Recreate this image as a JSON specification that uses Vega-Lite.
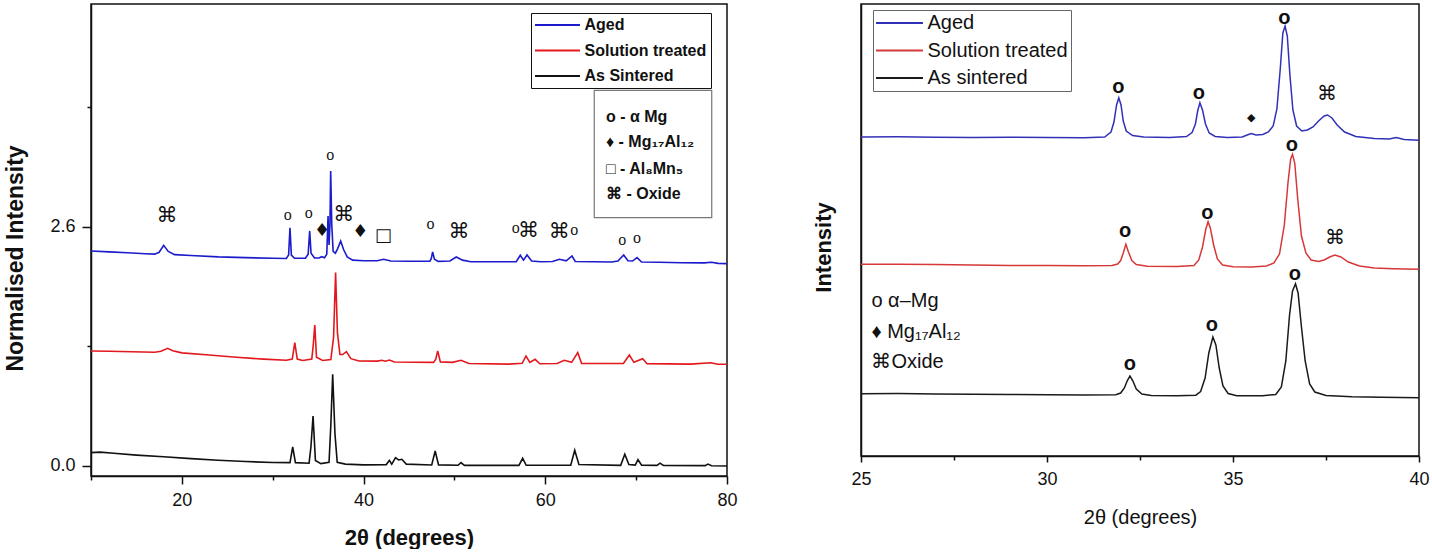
{
  "$schema": "https://vega.github.io/schema/vega-lite/v6.json",
  "background": "white",
  "padding": {"left": 4, "top": 3, "right": 0, "bottom": 0},
  "config": {
    "font": "Liberation Sans",
    "view": {"stroke": "#111", "strokeWidth": 1.5},
    "axis": {"domainColor": "#111", "domainWidth": 1.5, "tickColor": "#111", "tickWidth": 1.5, "labelColor": "#111", "titleColor": "#111", "grid": false, "labelFont": "Liberation Sans", "titleFont": "Liberation Sans", "labelFlush": false}
  },
  "datasets": {
    "leftCurves": [
      {"s":"Aged","x":10,"y":2.334},{"s":"Aged","x":12,"y":2.325},{"s":"Aged","x":14,"y":2.315},{"s":"Aged","x":16,"y":2.305},{"s":"Aged","x":17,"y":2.3},{"s":"Aged","x":17.5,"y":2.32},{"s":"Aged","x":18,"y":2.396},{"s":"Aged","x":18.5,"y":2.33},{"s":"Aged","x":19.2,"y":2.295},{"s":"Aged","x":21,"y":2.285},{"s":"Aged","x":24,"y":2.27},{"s":"Aged","x":27,"y":2.262},{"s":"Aged","x":30,"y":2.255},{"s":"Aged","x":31.5,"y":2.252},{"s":"Aged","x":31.75,"y":2.29},{"s":"Aged","x":31.9,"y":2.587},{"s":"Aged","x":32.05,"y":2.29},{"s":"Aged","x":32.4,"y":2.255},{"s":"Aged","x":33.6,"y":2.255},{"s":"Aged","x":33.9,"y":2.3},{"s":"Aged","x":34.07,"y":2.552},{"s":"Aged","x":34.22,"y":2.31},{"s":"Aged","x":34.6,"y":2.258},{"s":"Aged","x":35.1,"y":2.258},{"s":"Aged","x":35.39,"y":2.272},{"s":"Aged","x":35.7,"y":2.26},{"s":"Aged","x":35.95,"y":2.3},{"s":"Aged","x":36.09,"y":2.714},{"s":"Aged","x":36.2,"y":2.4},{"s":"Aged","x":36.3,"y":2.62},{"s":"Aged","x":36.38,"y":3.203},{"s":"Aged","x":36.5,"y":2.62},{"s":"Aged","x":36.65,"y":2.33},{"s":"Aged","x":36.9,"y":2.31},{"s":"Aged","x":37.15,"y":2.36},{"s":"Aged","x":37.48,"y":2.443},{"s":"Aged","x":37.8,"y":2.35},{"s":"Aged","x":38.2,"y":2.27},{"s":"Aged","x":38.8,"y":2.235},{"s":"Aged","x":40,"y":2.228},{"s":"Aged","x":41.5,"y":2.228},{"s":"Aged","x":42.21,"y":2.244},{"s":"Aged","x":43,"y":2.225},{"s":"Aged","x":45,"y":2.222},{"s":"Aged","x":47.3,"y":2.222},{"s":"Aged","x":47.45,"y":2.25},{"s":"Aged","x":47.6,"y":2.324},{"s":"Aged","x":47.8,"y":2.245},{"s":"Aged","x":48.2,"y":2.222},{"s":"Aged","x":49.5,"y":2.225},{"s":"Aged","x":50.2,"y":2.269},{"s":"Aged","x":50.9,"y":2.235},{"s":"Aged","x":51.8,"y":2.217},{"s":"Aged","x":56.8,"y":2.217},{"s":"Aged","x":57.25,"y":2.288},{"s":"Aged","x":57.6,"y":2.235},{"s":"Aged","x":57.99,"y":2.291},{"s":"Aged","x":58.5,"y":2.225},{"s":"Aged","x":59.5,"y":2.217},{"s":"Aged","x":60.8,"y":2.22},{"s":"Aged","x":61.55,"y":2.244},{"s":"Aged","x":62.3,"y":2.228},{"s":"Aged","x":62.94,"y":2.28},{"s":"Aged","x":63.3,"y":2.22},{"s":"Aged","x":67.3,"y":2.215},{"s":"Aged","x":68,"y":2.225},{"s":"Aged","x":68.63,"y":2.291},{"s":"Aged","x":69.1,"y":2.228},{"s":"Aged","x":69.6,"y":2.225},{"s":"Aged","x":70.1,"y":2.262},{"s":"Aged","x":70.6,"y":2.215},{"s":"Aged","x":72.5,"y":2.212},{"s":"Aged","x":75,"y":2.207},{"s":"Aged","x":77.5,"y":2.205},{"s":"Aged","x":78.3,"y":2.212},{"s":"Aged","x":79,"y":2.2},{"s":"Aged","x":80,"y":2.197},
      {"s":"Solution treated","x":10,"y":1.249},{"s":"Solution treated","x":12,"y":1.245},{"s":"Solution treated","x":14.5,"y":1.24},{"s":"Solution treated","x":17,"y":1.235},{"s":"Solution treated","x":17.7,"y":1.245},{"s":"Solution treated","x":18.44,"y":1.278},{"s":"Solution treated","x":19,"y":1.252},{"s":"Solution treated","x":20,"y":1.228},{"s":"Solution treated","x":23,"y":1.205},{"s":"Solution treated","x":26,"y":1.18},{"s":"Solution treated","x":29,"y":1.16},{"s":"Solution treated","x":31.5,"y":1.148},{"s":"Solution treated","x":32.15,"y":1.16},{"s":"Solution treated","x":32.43,"y":1.339},{"s":"Solution treated","x":32.7,"y":1.16},{"s":"Solution treated","x":33.3,"y":1.145},{"s":"Solution treated","x":34.3,"y":1.16},{"s":"Solution treated","x":34.45,"y":1.3},{"s":"Solution treated","x":34.63,"y":1.531},{"s":"Solution treated","x":34.82,"y":1.18},{"s":"Solution treated","x":35.5,"y":1.145},{"s":"Solution treated","x":36.4,"y":1.155},{"s":"Solution treated","x":36.7,"y":1.4},{"s":"Solution treated","x":36.92,"y":2.099},{"s":"Solution treated","x":37.12,"y":1.45},{"s":"Solution treated","x":37.4,"y":1.21},{"s":"Solution treated","x":37.7,"y":1.21},{"s":"Solution treated","x":38.11,"y":1.241},{"s":"Solution treated","x":38.6,"y":1.165},{"s":"Solution treated","x":39.5,"y":1.14},{"s":"Solution treated","x":41.5,"y":1.138},{"s":"Solution treated","x":42.01,"y":1.148},{"s":"Solution treated","x":42.4,"y":1.138},{"s":"Solution treated","x":42.84,"y":1.15},{"s":"Solution treated","x":43.4,"y":1.128},{"s":"Solution treated","x":47.7,"y":1.125},{"s":"Solution treated","x":47.95,"y":1.16},{"s":"Solution treated","x":48.16,"y":1.249},{"s":"Solution treated","x":48.45,"y":1.13},{"s":"Solution treated","x":49.8,"y":1.125},{"s":"Solution treated","x":50.72,"y":1.148},{"s":"Solution treated","x":51.6,"y":1.112},{"s":"Solution treated","x":56,"y":1.106},{"s":"Solution treated","x":57.45,"y":1.115},{"s":"Solution treated","x":57.88,"y":1.194},{"s":"Solution treated","x":58.3,"y":1.125},{"s":"Solution treated","x":58.88,"y":1.158},{"s":"Solution treated","x":59.4,"y":1.11},{"s":"Solution treated","x":61.3,"y":1.112},{"s":"Solution treated","x":62.1,"y":1.148},{"s":"Solution treated","x":62.9,"y":1.125},{"s":"Solution treated","x":63.57,"y":1.23},{"s":"Solution treated","x":64,"y":1.112},{"s":"Solution treated","x":68.6,"y":1.112},{"s":"Solution treated","x":69.25,"y":1.205},{"s":"Solution treated","x":69.75,"y":1.125},{"s":"Solution treated","x":70.72,"y":1.165},{"s":"Solution treated","x":71.2,"y":1.11},{"s":"Solution treated","x":73.5,"y":1.108},{"s":"Solution treated","x":76,"y":1.106},{"s":"Solution treated","x":78.2,"y":1.12},{"s":"Solution treated","x":79,"y":1.104},{"s":"Solution treated","x":80,"y":1.104},
      {"s":"As Sintered","x":10,"y":0.145},{"s":"As Sintered","x":11,"y":0.15},{"s":"As Sintered","x":12.5,"y":0.138},{"s":"As Sintered","x":15,"y":0.118},{"s":"As Sintered","x":18,"y":0.1},{"s":"As Sintered","x":21,"y":0.08},{"s":"As Sintered","x":24,"y":0.062},{"s":"As Sintered","x":27,"y":0.048},{"s":"As Sintered","x":30,"y":0.038},{"s":"As Sintered","x":31.9,"y":0.036},{"s":"As Sintered","x":32.2,"y":0.206},{"s":"As Sintered","x":32.5,"y":0.036},{"s":"As Sintered","x":34,"y":0.03},{"s":"As Sintered","x":34.2,"y":0.2},{"s":"As Sintered","x":34.44,"y":0.543},{"s":"As Sintered","x":34.7,"y":0.06},{"s":"As Sintered","x":35.3,"y":0.025},{"s":"As Sintered","x":36.2,"y":0.04},{"s":"As Sintered","x":36.4,"y":0.45},{"s":"As Sintered","x":36.6,"y":0.995},{"s":"As Sintered","x":36.85,"y":0.35},{"s":"As Sintered","x":37.1,"y":0.04},{"s":"As Sintered","x":38,"y":0.02},{"s":"As Sintered","x":40,"y":0.012},{"s":"As Sintered","x":42.5,"y":0.015},{"s":"As Sintered","x":42.84,"y":0.061},{"s":"As Sintered","x":43.1,"y":0.02},{"s":"As Sintered","x":43.52,"y":0.09},{"s":"As Sintered","x":43.85,"y":0.065},{"s":"As Sintered","x":44.21,"y":0.072},{"s":"As Sintered","x":44.7,"y":0.02},{"s":"As Sintered","x":47.5,"y":0.01},{"s":"As Sintered","x":47.88,"y":0.163},{"s":"As Sintered","x":48.25,"y":0.012},{"s":"As Sintered","x":50.4,"y":0.008},{"s":"As Sintered","x":50.72,"y":0.036},{"s":"As Sintered","x":51.1,"y":0.006},{"s":"As Sintered","x":57.1,"y":0.006},{"s":"As Sintered","x":57.51,"y":0.083},{"s":"As Sintered","x":57.9,"y":0.007},{"s":"As Sintered","x":62.8,"y":0.008},{"s":"As Sintered","x":63.24,"y":0.17},{"s":"As Sintered","x":63.7,"y":0.015},{"s":"As Sintered","x":68.3,"y":0.007},{"s":"As Sintered","x":68.75,"y":0.127},{"s":"As Sintered","x":69.2,"y":0.015},{"s":"As Sintered","x":69.9,"y":0.01},{"s":"As Sintered","x":70.2,"y":0.069},{"s":"As Sintered","x":70.6,"y":0.008},{"s":"As Sintered","x":72.3,"y":0.006},{"s":"As Sintered","x":72.63,"y":0.03},{"s":"As Sintered","x":73,"y":0.006},{"s":"As Sintered","x":77.6,"y":0.004},{"s":"As Sintered","x":77.9,"y":0.02},{"s":"As Sintered","x":78.3,"y":0.003},{"s":"As Sintered","x":80,"y":0.0}
    ],
    "leftMarks": [
      {"k":"o","t":"o","x":31.65,"y":2.73},{"k":"o","t":"o","x":33.96,"y":2.75},{"k":"o","t":"o","x":36.34,"y":3.38},{"k":"o","t":"o","x":47.37,"y":2.63},{"k":"o","t":"o","x":56.75,"y":2.58},{"k":"o","t":"o","x":63.2,"y":2.56},{"k":"o","t":"o","x":68.48,"y":2.45},{"k":"o","t":"o","x":70.09,"y":2.47},
      {"k":"cmd","t":"⌘","x":18.36,"y":2.71},{"k":"cmd","t":"⌘","x":37.81,"y":2.73},{"k":"cmd","t":"⌘","x":50.5,"y":2.54},{"k":"cmd","t":"⌘","x":58.16,"y":2.55},{"k":"cmd","t":"⌘","x":61.55,"y":2.54},
      {"k":"sym","t":"♦","x":35.42,"y":2.55},{"k":"sym","t":"♦","x":39.64,"y":2.54},{"k":"sym","t":"□","x":42.17,"y":2.5}
    ],
    "leftBox": [{"x":65.39,"xe":78.32,"y":4.079,"ye":2.696}],
    "leftKey": [
      {"t":"o - α Mg","x":66.68,"y":3.789},
      {"t":"♦ - Mg₁₇Al₁₂","x":66.68,"y":3.521},
      {"t":"□ - Al₈Mn₅","x":66.68,"y":3.222},
      {"t":"⌘ - Oxide","x":66.68,"y":2.95}
    ],
    "rightCurves": [
      {"s":"Aged","x":25,"y":320},{"s":"Aged","x":26,"y":320.3},{"s":"Aged","x":27,"y":319.8},{"s":"Aged","x":28,"y":319.6},{"s":"Aged","x":29,"y":319.8},{"s":"Aged","x":30,"y":319.4},{"s":"Aged","x":31,"y":319.3},{"s":"Aged","x":31.55,"y":320},{"s":"Aged","x":31.72,"y":325},{"s":"Aged","x":31.8,"y":335},{"s":"Aged","x":31.87,"y":352},{"s":"Aged","x":31.93,"y":359.3},{"s":"Aged","x":31.99,"y":352},{"s":"Aged","x":32.05,"y":336},{"s":"Aged","x":32.13,"y":326},{"s":"Aged","x":32.3,"y":321.5},{"s":"Aged","x":32.6,"y":320},{"s":"Aged","x":33.3,"y":319.5},{"s":"Aged","x":33.75,"y":320.5},{"s":"Aged","x":33.9,"y":324.5},{"s":"Aged","x":33.99,"y":333},{"s":"Aged","x":34.05,"y":346},{"s":"Aged","x":34.11,"y":354.3},{"s":"Aged","x":34.18,"y":347},{"s":"Aged","x":34.26,"y":333},{"s":"Aged","x":34.36,"y":324},{"s":"Aged","x":34.52,"y":320.5},{"s":"Aged","x":34.85,"y":319.5},{"s":"Aged","x":35.25,"y":320},{"s":"Aged","x":35.38,"y":322},{"s":"Aged","x":35.49,"y":323.5},{"s":"Aged","x":35.62,"y":322},{"s":"Aged","x":35.8,"y":322.5},{"s":"Aged","x":35.95,"y":325},{"s":"Aged","x":36.08,"y":331},{"s":"Aged","x":36.18,"y":348},{"s":"Aged","x":36.27,"y":388},{"s":"Aged","x":36.34,"y":424},{"s":"Aged","x":36.4,"y":431},{"s":"Aged","x":36.46,"y":421},{"s":"Aged","x":36.53,"y":382},{"s":"Aged","x":36.61,"y":347},{"s":"Aged","x":36.71,"y":331},{"s":"Aged","x":36.85,"y":326},{"s":"Aged","x":37,"y":327},{"s":"Aged","x":37.15,"y":330},{"s":"Aged","x":37.3,"y":336},{"s":"Aged","x":37.45,"y":341},{"s":"Aged","x":37.54,"y":342},{"s":"Aged","x":37.66,"y":339},{"s":"Aged","x":37.8,"y":332},{"s":"Aged","x":38,"y":325},{"s":"Aged","x":38.3,"y":320.5},{"s":"Aged","x":38.8,"y":318.5},{"s":"Aged","x":39.2,"y":318},{"s":"Aged","x":39.39,"y":319.5},{"s":"Aged","x":39.6,"y":317.5},{"s":"Aged","x":40,"y":316.7},
      {"s":"Solution treated","x":25,"y":192.7},{"s":"Solution treated","x":26,"y":192.8},{"s":"Solution treated","x":27,"y":192.4},{"s":"Solution treated","x":28,"y":192},{"s":"Solution treated","x":29,"y":191.6},{"s":"Solution treated","x":30,"y":191.5},{"s":"Solution treated","x":31,"y":191.2},{"s":"Solution treated","x":31.75,"y":191.5},{"s":"Solution treated","x":31.9,"y":193},{"s":"Solution treated","x":31.98,"y":196.5},{"s":"Solution treated","x":32.05,"y":204},{"s":"Solution treated","x":32.12,"y":212.7},{"s":"Solution treated","x":32.19,"y":205},{"s":"Solution treated","x":32.28,"y":196.5},{"s":"Solution treated","x":32.4,"y":192.5},{"s":"Solution treated","x":32.7,"y":190.8},{"s":"Solution treated","x":33.5,"y":190.5},{"s":"Solution treated","x":33.95,"y":191.5},{"s":"Solution treated","x":34.08,"y":197},{"s":"Solution treated","x":34.18,"y":210},{"s":"Solution treated","x":34.27,"y":228},{"s":"Solution treated","x":34.33,"y":235.3},{"s":"Solution treated","x":34.39,"y":229},{"s":"Solution treated","x":34.48,"y":212},{"s":"Solution treated","x":34.58,"y":198},{"s":"Solution treated","x":34.72,"y":192},{"s":"Solution treated","x":35,"y":190.3},{"s":"Solution treated","x":35.5,"y":190},{"s":"Solution treated","x":35.9,"y":191},{"s":"Solution treated","x":36.1,"y":194},{"s":"Solution treated","x":36.25,"y":203},{"s":"Solution treated","x":36.38,"y":232},{"s":"Solution treated","x":36.48,"y":275},{"s":"Solution treated","x":36.55,"y":298},{"s":"Solution treated","x":36.6,"y":302.7},{"s":"Solution treated","x":36.66,"y":294},{"s":"Solution treated","x":36.74,"y":258},{"s":"Solution treated","x":36.84,"y":221},{"s":"Solution treated","x":36.96,"y":204},{"s":"Solution treated","x":37.1,"y":197},{"s":"Solution treated","x":37.3,"y":195.5},{"s":"Solution treated","x":37.45,"y":197},{"s":"Solution treated","x":37.6,"y":200},{"s":"Solution treated","x":37.74,"y":202},{"s":"Solution treated","x":37.9,"y":200},{"s":"Solution treated","x":38.1,"y":195},{"s":"Solution treated","x":38.4,"y":191},{"s":"Solution treated","x":38.8,"y":189},{"s":"Solution treated","x":39.3,"y":188.3},{"s":"Solution treated","x":40,"y":187.7},
      {"s":"As sintered","x":25,"y":63.3},{"s":"As sintered","x":26,"y":63.5},{"s":"As sintered","x":27,"y":63},{"s":"As sintered","x":28,"y":62.7},{"s":"As sintered","x":29,"y":62.5},{"s":"As sintered","x":30,"y":62.2},{"s":"As sintered","x":31,"y":62},{"s":"As sintered","x":31.85,"y":62.2},{"s":"As sintered","x":31.98,"y":64},{"s":"As sintered","x":32.08,"y":69},{"s":"As sintered","x":32.16,"y":76.5},{"s":"As sintered","x":32.23,"y":81},{"s":"As sintered","x":32.31,"y":76},{"s":"As sintered","x":32.4,"y":68},{"s":"As sintered","x":32.55,"y":63},{"s":"As sintered","x":32.8,"y":61.5},{"s":"As sintered","x":33.5,"y":61.3},{"s":"As sintered","x":34,"y":61.8},{"s":"As sintered","x":34.13,"y":65.5},{"s":"As sintered","x":34.25,"y":79},{"s":"As sintered","x":34.35,"y":104},{"s":"As sintered","x":34.46,"y":120},{"s":"As sintered","x":34.54,"y":112},{"s":"As sintered","x":34.63,"y":89},{"s":"As sintered","x":34.73,"y":71},{"s":"As sintered","x":34.87,"y":63.5},{"s":"As sintered","x":35.1,"y":61.3},{"s":"As sintered","x":35.8,"y":61.3},{"s":"As sintered","x":36.15,"y":62.5},{"s":"As sintered","x":36.3,"y":70},{"s":"As sintered","x":36.42,"y":96},{"s":"As sintered","x":36.52,"y":142},{"s":"As sintered","x":36.6,"y":166},{"s":"As sintered","x":36.68,"y":173.3},{"s":"As sintered","x":36.75,"y":164},{"s":"As sintered","x":36.84,"y":130},{"s":"As sintered","x":36.94,"y":96},{"s":"As sintered","x":37.06,"y":73},{"s":"As sintered","x":37.2,"y":65},{"s":"As sintered","x":37.5,"y":61.5},{"s":"As sintered","x":38.2,"y":60.3},{"s":"As sintered","x":39,"y":59.8},{"s":"As sintered","x":40,"y":59.3}
    ],
    "rightMarks": [
      {"k":"o","t":"o","x":31.92,"y":370},{"k":"o","t":"o","x":34.08,"y":364},{"k":"o","t":"o","x":36.38,"y":439},{"k":"o","t":"o","x":32.1,"y":226},{"k":"o","t":"o","x":34.31,"y":244},{"k":"o","t":"o","x":36.58,"y":312},{"k":"o","t":"o","x":32.23,"y":93},{"k":"o","t":"o","x":34.43,"y":132},{"k":"o","t":"o","x":36.66,"y":183},
      {"k":"cmd","t":"⌘","x":37.53,"y":363},{"k":"cmd","t":"⌘","x":37.74,"y":219},
      {"k":"sym","t":"◆","x":35.49,"y":339}
    ],
    "rightKey": [
      {"t":"o α–Mg","x":25.28,"y":156},
      {"t":"♦ Mg₁₇Al₁₂","x":25.28,"y":125},
      {"t":"⌘Oxide","x":25.28,"y":95}
    ]
  },
  "hconcat": [
    {
      "width": 636,
      "height": 472,
      "layer": [
        {
          "data": {"name": "leftCurves"},
          "mark": {"type": "line", "strokeWidth": 1.6},
          "encoding": {
            "x": {"field": "x", "type": "quantitative", "scale": {"domain": [10, 80], "nice": false, "zero": false},
              "axis": {"title": "2θ (degrees)", "values": [10, 20, 30, 40, 50, 60, 70, 80], "labelExpr": "datum.value % 20 == 0 ? datum.label : ''", "tickSize": {"condition": {"test": "datum.value % 20 == 0", "value": 8}, "value": 4}, "labelFontSize": 18, "labelPadding": 7, "titleFontSize": 22, "titleFontWeight": "bold", "titlePadding": 18}},
            "y": {"field": "y", "type": "quantitative", "scale": {"domain": [-0.109, 5.016], "nice": false, "zero": false},
              "axis": {"title": "Normalised Intensity", "values": [0, 1.3, 2.6, 3.9], "format": ".1f", "labelExpr": "datum.value == 0 || datum.value == 2.6 ? datum.label : ''", "tickSize": {"condition": {"test": "datum.value == 0 || datum.value == 2.6", "value": 9}, "value": 4}, "labelFontSize": 18, "labelPadding": 7, "titleFontSize": 23, "titleFontWeight": "bold", "titlePadding": 22, "titleY": 254}},
            "color": {"field": "s", "type": "nominal",
              "scale": {"domain": ["Aged", "Solution treated", "As Sintered"], "range": ["#1b1bcc", "#e3181d", "#111111"]},
              "legend": {"orient": "none", "legendX": 440, "legendY": 9, "title": null, "symbolType": "M-5,0H5", "symbolSize": 81, "symbolStrokeWidth": 2, "symbolOffset": 14.5, "labelOffset": 19, "labelFontSize": 16, "labelFontWeight": "bold", "labelFont": "Liberation Sans", "labelColor": "#111", "strokeColor": "#111", "fillColor": "white", "padding": 4, "rowPadding": 9.5}}
          }
        },
        {
          "data": {"name": "leftBox"},
          "mark": {"type": "rect", "fill": "white", "stroke": "#777", "strokeWidth": 1.2},
          "encoding": {
            "x": {"field": "x", "type": "quantitative", "scale": {"domain": [10, 80], "nice": false, "zero": false}},
            "x2": {"field": "xe"},
            "y": {"field": "y", "type": "quantitative", "scale": {"domain": [-0.109, 5.016], "nice": false, "zero": false}},
            "y2": {"field": "ye"}
          }
        },
        {
          "data": {"name": "leftKey"},
          "mark": {"type": "text", "align": "left", "font": "Liberation Sans", "fontSize": 16, "fontWeight": "bold", "color": "#111"},
          "encoding": {
            "x": {"field": "x", "type": "quantitative", "scale": {"domain": [10, 80], "nice": false, "zero": false}},
            "y": {"field": "y", "type": "quantitative", "scale": {"domain": [-0.109, 5.016], "nice": false, "zero": false}},
            "text": {"field": "t"}
          }
        },
        {
          "data": {"name": "leftMarks"},
          "transform": [{"filter": "datum.k == 'o'"}],
          "mark": {"type": "text", "font": "Liberation Serif", "fontSize": 16, "color": "#111"},
          "encoding": {
            "x": {"field": "x", "type": "quantitative", "scale": {"domain": [10, 80], "nice": false, "zero": false}},
            "y": {"field": "y", "type": "quantitative", "scale": {"domain": [-0.109, 5.016], "nice": false, "zero": false}},
            "text": {"field": "t"}
          }
        },
        {
          "data": {"name": "leftMarks"},
          "transform": [{"filter": "datum.k == 'cmd'"}],
          "mark": {"type": "text", "font": "DejaVu Sans", "fontSize": 21, "color": "#111"},
          "encoding": {
            "x": {"field": "x", "type": "quantitative", "scale": {"domain": [10, 80], "nice": false, "zero": false}},
            "y": {"field": "y", "type": "quantitative", "scale": {"domain": [-0.109, 5.016], "nice": false, "zero": false}},
            "text": {"field": "t"}
          }
        },
        {
          "data": {"name": "leftMarks"},
          "transform": [{"filter": "datum.k == 'sym'"}],
          "mark": {"type": "text", "font": "DejaVu Sans", "fontSize": 18, "color": "#111"},
          "encoding": {
            "x": {"field": "x", "type": "quantitative", "scale": {"domain": [10, 80], "nice": false, "zero": false}},
            "y": {"field": "y", "type": "quantitative", "scale": {"domain": [-0.109, 5.016], "nice": false, "zero": false}},
            "text": {"field": "t"}
          }
        }
      ]
    },
    {
      "width": 558,
      "height": 452,
      "layer": [
        {
          "data": {"name": "rightCurves"},
          "mark": {"type": "line", "strokeWidth": 1.5},
          "encoding": {
            "x": {"field": "x", "type": "quantitative", "scale": {"domain": [25, 40], "nice": false, "zero": false},
              "axis": {"title": "2θ (degrees)", "values": [25, 27.5, 30, 32.5, 35, 37.5, 40], "labelExpr": "datum.value % 5 == 0 ? datum.label : ''", "tickSize": {"condition": {"test": "datum.value % 5 == 0", "value": 6}, "value": 4}, "labelFontSize": 18, "labelPadding": 8, "titleFontSize": 20, "titleFontWeight": "normal", "titlePadding": 19}},
            "y": {"field": "y", "type": "quantitative", "scale": {"domain": [1, 453], "nice": false, "zero": false},
              "axis": {"title": "Intensity", "ticks": false, "labels": false, "titleFontSize": 22, "titleFontWeight": "bold", "titlePadding": 26, "titleY": 243}},
            "color": {"field": "s", "type": "nominal",
              "scale": {"domain": ["Aged", "Solution treated", "As sintered"], "range": ["#3131b8", "#d63838", "#1a1a1a"]},
              "legend": {"orient": "none", "legendX": 12, "legendY": 6, "title": null, "symbolType": "M-5,0H5", "symbolSize": 88, "symbolStrokeWidth": 2, "symbolOffset": 13.5, "labelOffset": 18, "labelFontSize": 20, "labelFontWeight": "normal", "labelFont": "Liberation Sans", "labelColor": "#111", "strokeColor": "#666", "fillColor": "white", "padding": 3, "rowPadding": 7.5}}
          }
        },
        {
          "data": {"name": "rightKey"},
          "mark": {"type": "text", "align": "left", "font": "Liberation Sans", "fontSize": 20, "color": "#111"},
          "encoding": {
            "x": {"field": "x", "type": "quantitative", "scale": {"domain": [25, 40], "nice": false, "zero": false}},
            "y": {"field": "y", "type": "quantitative", "scale": {"domain": [1, 453], "nice": false, "zero": false}},
            "text": {"field": "t"}
          }
        },
        {
          "data": {"name": "rightMarks"},
          "transform": [{"filter": "datum.k == 'o'"}],
          "mark": {"type": "text", "font": "Liberation Sans", "fontSize": 20, "fontWeight": "bold", "color": "#111"},
          "encoding": {
            "x": {"field": "x", "type": "quantitative", "scale": {"domain": [25, 40], "nice": false, "zero": false}},
            "y": {"field": "y", "type": "quantitative", "scale": {"domain": [1, 453], "nice": false, "zero": false}},
            "text": {"field": "t"}
          }
        },
        {
          "data": {"name": "rightMarks"},
          "transform": [{"filter": "datum.k == 'cmd'"}],
          "mark": {"type": "text", "font": "DejaVu Sans", "fontSize": 20, "color": "#111"},
          "encoding": {
            "x": {"field": "x", "type": "quantitative", "scale": {"domain": [25, 40], "nice": false, "zero": false}},
            "y": {"field": "y", "type": "quantitative", "scale": {"domain": [1, 453], "nice": false, "zero": false}},
            "text": {"field": "t"}
          }
        },
        {
          "data": {"name": "rightMarks"},
          "transform": [{"filter": "datum.k == 'sym'"}],
          "mark": {"type": "text", "font": "DejaVu Sans", "fontSize": 11, "color": "#111"},
          "encoding": {
            "x": {"field": "x", "type": "quantitative", "scale": {"domain": [25, 40], "nice": false, "zero": false}},
            "y": {"field": "y", "type": "quantitative", "scale": {"domain": [1, 453], "nice": false, "zero": false}},
            "text": {"field": "t"}
          }
        }
      ]
    }
  ],
  "spacing": 134,
  "bounds": "flush",
  "resolve": {"scale": {"color": "independent"}, "legend": {"color": "independent"}}
}
